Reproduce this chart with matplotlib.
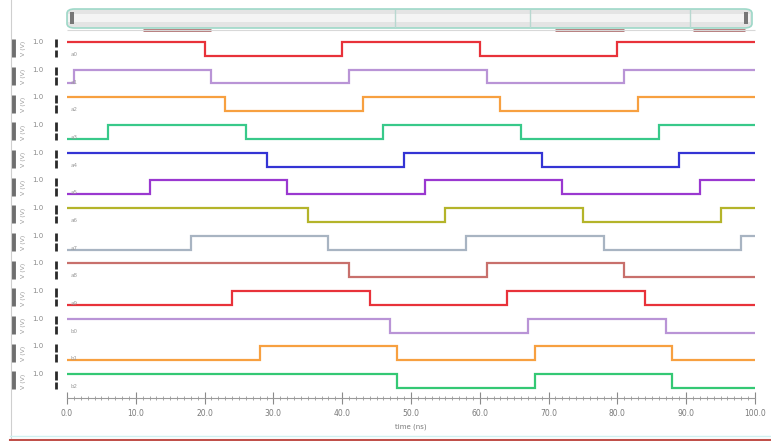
import matplotlib
matplotlib.use('Agg')
import matplotlib.pyplot as plt
from matplotlib.patches import FancyBboxPatch, Rectangle
from matplotlib.transforms import blended_transform_factory

# each row: level at t=0 and the times where it toggles
start_level = [1, 0, 1, 0, 1, 0, 1, 0, 1, 0, 1, 0, 1]
edges = [
    [20, 40, 60, 80],
    [1, 21, 41, 61, 81],
    [23, 43, 63, 83],
    [6, 26, 46, 66, 86],
    [29, 49, 69, 89],
    [12, 32, 52, 72, 92],
    [35, 55, 75, 95],
    [18, 38, 58, 78, 98],
    [41, 61, 81],
    [24, 44, 64, 84],
    [47, 67, 87],
    [28, 48, 68, 88],
    [48, 68, 88],
]
colors = ['#e8323a', '#b994d6', '#f7a040', '#38c98a', '#3434d4', '#9a38d0',
          '#b4b42a', '#a8b4c2', '#c8706c', '#e8323a', '#b994d6', '#f7a040',
          '#34c874']
names = ['a0', 'a1', 'a2', 'a3', 'a4', 'a5', 'a6', 'a7', 'a8', 'a9', 'b0', 'b1', 'b2']
ytick_label = '1.0'
axis_unit = 'V (V)'
xticks = [0, 10, 20, 30, 40, 50, 60, 70, 80, 90, 100]
xtick_labels = ['0.0', '10.0', '20.0', '30.0', '40.0', '50.0', '60.0', '70.0',
                '80.0', '90.0', '100.0']
t_end = 100
# faint segments of a row peeking out under the scroll bar
top_segments = [(11, 21), (71, 81), (91, 98.5)]

W, H = 771, 441
fig = plt.figure(figsize=(W / 100, H / 100), dpi=100)
ax = fig.add_axes([67 / W, 43 / H, 688 / W, 363 / H])

n = len(edges)
amp = 0.5
for i in range(n):
    base = n - 1 - i
    xs = [0] + edges[i]
    lvl = start_level[i]
    ys = []
    for k in range(len(xs)):
        ys.append(base + amp * lvl)
        lvl = 1 - lvl
    xs.append(t_end)
    ys.append(ys[-1])
    ax.step(xs, ys, where='post', color=colors[i], lw=1.6, solid_joinstyle='miter')

ax.set_xlim(0, 100)
ax.set_ylim(-0.36, n - 1 + amp + 0.25)
for s in ['left', 'right', 'top']:
    ax.spines[s].set_visible(False)
ax.spines['bottom'].set_color('#9a9a9a')
ax.spines['bottom'].set_linewidth(0.8)
ax.set_yticks([])
ax.set_xticks(xticks)
ax.set_xticklabels(xtick_labels)
ax.set_xticks(range(0, 101, 1), minor=True)
ax.tick_params(axis='x', which='major', direction='inout', length=8, width=0.8,
               color='#8a8a8a', labelsize=5.5, labelcolor='#7a7a7a', pad=4)
ax.tick_params(axis='x', which='minor', direction='inout', length=3, width=0.6,
               color='#9a9a9a')
ax.set_xlabel('time (ns)', fontsize=5, color='#7a7a7a', labelpad=4)

# left side decorations per row
trans = blended_transform_factory(fig.transFigure, ax.transData)
for i in range(n):
    base = n - 1 - i
    ax.text(38 / W, base + amp, ytick_label, transform=trans, fontsize=5,
            color='#8a8a8a', ha='center', va='center')
    ax.text(23 / W, base + amp / 2, axis_unit, transform=trans, fontsize=4.5,
            color='#9a9a9a', ha='center', va='center', rotation=90)
    ax.vlines(13 / W, base - 0.05, base + amp + 0.1, transform=trans, colors='#6e6e6e',
              lw=3.5, clip_on=False)
    ax.vlines(56 / W, base - 0.05, base + amp * 0.45, transform=trans, colors='#2a2a2a',
              lw=2, clip_on=False)
    ax.vlines(56 / W, base + amp * 0.6, base + amp + 0.1, transform=trans, colors='#2a2a2a',
              lw=2, clip_on=False)
    ax.text(0.5, base + 0.05, names[i], fontsize=4, color='#9a9a9a', ha='left',
            va='center')

# segments below the scroll bar
for a, b in top_segments:
    ax.hlines(n - 1 + amp + 0.42, a, b, colors='#b07070', lw=2, clip_on=False)
ax.hlines(n - 1 + amp + 0.42, 0, t_end, colors='#d8d8d8', lw=0.8, clip_on=False)

# scroll bar at the top
fig.patches.append(FancyBboxPatch((67 / W, (H - 28) / H), 685 / W, 19 / H,
                                  boxstyle='round,pad=0,rounding_size=0.01',
                                  transform=fig.transFigure, facecolor='#e4e4e4',
                                  edgecolor='#9ed8c8', lw=1.2))
fig.patches.append(Rectangle((68 / W, (H - 22) / H), 682 / W, 8 / H,
                             transform=fig.transFigure, facecolor='#f4f4f4',
                             edgecolor='none'))
for xp in [395, 530, 690]:
    fig.add_artist(plt.Line2D([xp / W, xp / W], [(H - 27) / H, (H - 10) / H],
                              color='#b8d8d0', lw=1, transform=fig.transFigure))
fig.patches.append(Rectangle((70 / W, (H - 24) / H), 4 / W, 12 / H,
                             transform=fig.transFigure, facecolor='#777777'))
fig.patches.append(Rectangle((744 / W, (H - 24) / H), 4 / W, 12 / H,
                             transform=fig.transFigure, facecolor='#777777'))

# frame lines
fig.add_artist(plt.Line2D([11 / W, 11 / W], [2 / H, 1], color='#cfcfcf', lw=0.8,
                          transform=fig.transFigure))
fig.add_artist(plt.Line2D([10 / W, 1], [1.5 / H, 1.5 / H], color='#c0504a', lw=1.5,
                          transform=fig.transFigure))
fig.add_artist(plt.Line2D([10 / W, 1], [5 / H, 5 / H], color='#d0f0f0', lw=1,
                          transform=fig.transFigure))

fig.savefig('out.png', dpi=100)
